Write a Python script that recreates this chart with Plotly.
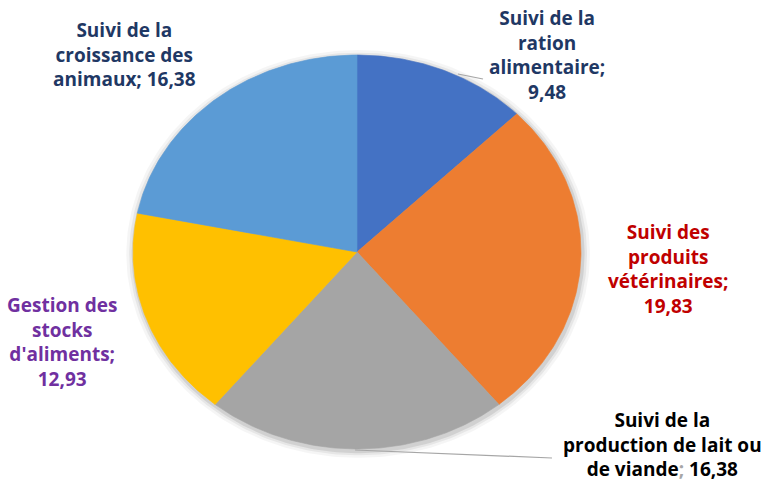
import numpy as np
import plotly.graph_objects as go

# ---- data ----
categories = ["Suivi de la ration alimentaire",
              "Suivi des produits vétérinaires",
              "Suivi de la production de lait ou de viande",
              "Gestion des stocks d'aliments",
              "Suivi de la croissance des animaux"]
values = [9.48, 19.83, 16.38, 12.93, 16.38]
slice_colors = ["#4472C4", "#ED7D31", "#A5A5A5", "#FFC000", "#5B9BD5"]
label_texts = ["Suivi de la<br>ration<br>alimentaire;<br>9,48",
               "Suivi des<br>produits<br>vétérinaires;<br>19,83",
               "Suivi de la<br>production de lait ou<br>de viande<span style='color:#A6A6A6'>;</span> 16,38",
               "Gestion des<br>stocks<br>d'aliments;<br>12,93",
               "Suivi de la<br>croissance des<br>animaux; 16,38"]
label_colors = ["#1F3864", "#C00000", "#000000", "#7030A0", "#1F3864"]

W, H = 765, 481
cx, cy, rx, ry = 357, 252, 224, 197

fig = go.Figure()

# soft shadow
for s, a in [(1.035, 0.04), (1.022, 0.06), (1.011, 0.09)]:
    t = np.linspace(0, 2 * np.pi, 300)
    fig.add_trace(go.Scatter(x=s * np.sin(t) + 0.005, y=s * np.cos(t) - 0.01, mode="lines",
                             fill="toself", fillcolor=f"rgba(0,0,0,{a})",
                             line=dict(width=0), hoverinfo="skip", showlegend=False))

total = sum(values)
start = 0.0
for cat, v, col in zip(categories, values, slice_colors):
    a0 = start / total * 2 * np.pi
    a1 = (start + v) / total * 2 * np.pi
    t = np.linspace(a0, a1, 120)
    xs = np.concatenate([[0], np.sin(t), [0]])
    ys = np.concatenate([[0], np.cos(t), [0]])
    fig.add_trace(go.Scatter(x=xs, y=ys, mode="lines", fill="toself", fillcolor=col,
                             line=dict(width=0.6, color=col), name=cat,
                             hoverinfo="text", text=f"{cat}; {v}", showlegend=False))
    start += v

# label positions (pixels, centers)
label_pos = [(547, 55), (668, 269), (662, 444), (62, 342), (124, 54)]
for txt, col, (px, py) in zip(label_texts, label_colors, label_pos):
    fig.add_annotation(x=px / W, y=1 - py / H, xref="paper", yref="paper",
                       text=txt, showarrow=False, align="center",
                       xanchor="center", yanchor="middle",
                       font=dict(family="Open Sans", size=19, color=col, weight="bold"))

# leader lines
for (x0, y0, x1, y1) in [(458, 74, 483, 79), (355, 450, 552, 458)]:
    fig.add_shape(type="line", xref="paper", yref="paper",
                  x0=x0 / W, y0=1 - y0 / H, x1=x1 / W, y1=1 - y1 / H,
                  line=dict(color="#A6A6A6", width=1.2))

fig.update_xaxes(range=[-cx / rx, (W - cx) / rx], visible=False, fixedrange=True)
fig.update_yaxes(range=[-(H - cy) / ry, cy / ry], visible=False, fixedrange=True)
fig.update_layout(width=W, height=H, margin=dict(l=0, r=0, t=0, b=0),
                  paper_bgcolor="white", plot_bgcolor="white", showlegend=False)

fig.write_html("out.html", config={"displayModeBar": False},
               post_script="document.body.style.margin='0px';")
